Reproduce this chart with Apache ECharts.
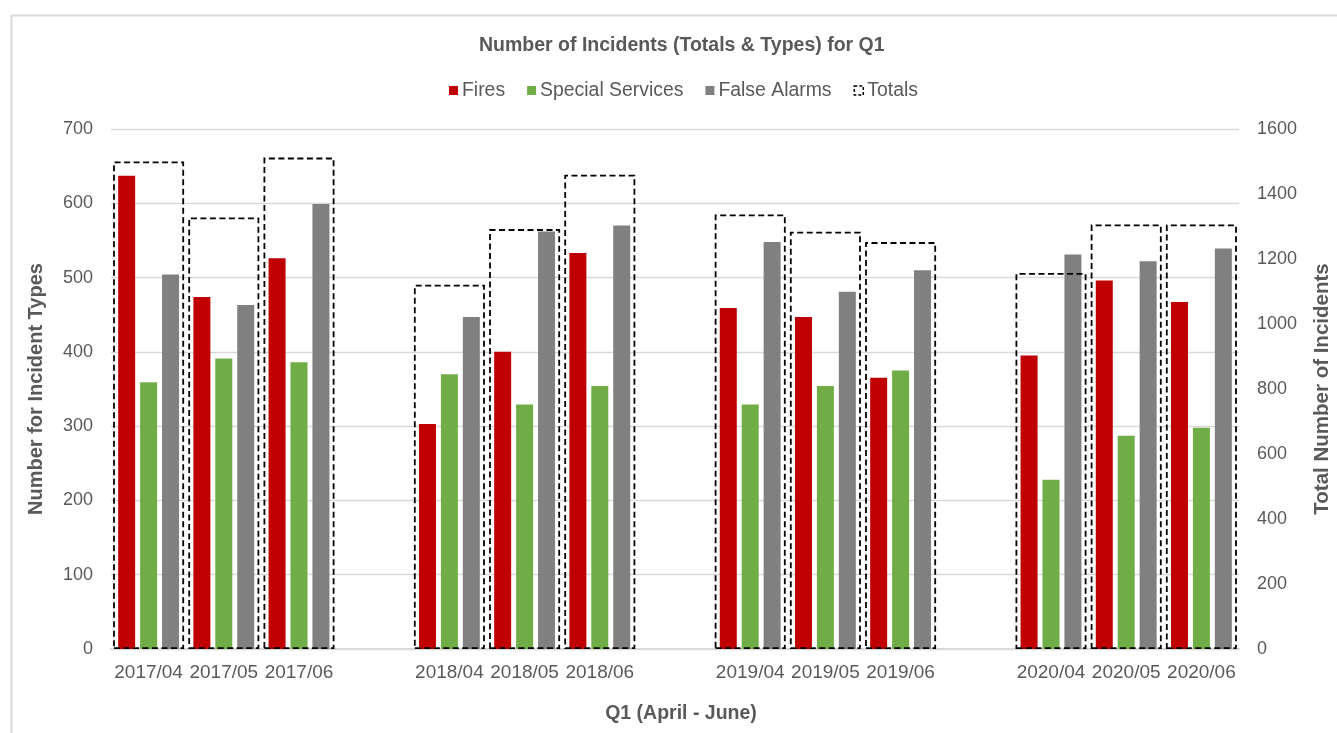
<!DOCTYPE html>
<html>
<head>
<meta charset="utf-8">
<script src="https://cdn.jsdelivr.net/npm/echarts@6/dist/echarts.min.js"></script>
<style>
html,body{margin:0;padding:0;background:#fff;}
#chart{width:1337px;height:733px;}
</style>
</head>
<body>
<div id="chart"></div>
<script>
// Categories (empty strings are the gaps between years)
var categories = ['2017/04','2017/05','2017/06','','2018/04','2018/05','2018/06','','2019/04','2019/05','2019/06','','2020/04','2020/05','2020/06'];
var fires          = [637, 474, 526, null, 303, 400, 533, null, 459, 447, 365, null, 395, 496, 467];
var specialServices= [359, 391, 386, null, 370, 329, 354, null, 329, 354, 375, null, 228, 287, 298];
var falseAlarms    = [504, 463, 599, null, 447, 562, 570, null, 548, 481, 510, null, 531, 522, 539];
var totals         = [1500, 1328, 1512, null, 1121, 1292, 1459, null, 1337, 1284, 1252, null, 1157, 1306, 1306];

var FONT = '"Liberation Sans", Arial, sans-serif';
var TXT = '#595959';

var chart = echarts.init(document.getElementById('chart'), null, {renderer:'canvas'});
chart.setOption({
  backgroundColor: '#fff',
  animation: false,
  graphic: [{
    type: 'rect', left: 9, top: 13, z: -10,
    shape: {x: 0, y: 0, width: 1340, height: 740},
    style: {fill: 'none', stroke: '#d9d9d9', lineWidth: 2}
  }],
  title: {
    text: 'Number of Incidents (Totals & Types) for Q1',
    left: 474, top: 31,
    textStyle: {fontFamily: FONT, fontSize: 19.5, fontWeight: 'bold', color: TXT}
  },
  legend: {
    top: 76, left: 444,
    itemWidth: 9, itemHeight: 9, itemGap: 22,
    textStyle: {fontFamily: FONT, fontSize: 19.4, color: TXT, padding: [0,0,0,-1]},
    data: [
      {name: 'Fires', icon: 'rect'},
      {name: 'Special Services', icon: 'rect'},
      {name: 'False Alarms', icon: 'rect'},
      {name: 'Totals', icon: 'rect', itemStyle: {color: 'rgba(0,0,0,0)', borderColor: '#000', borderWidth: 1.5, borderType: [3,2]}}
    ]
  },
  grid: {left: 111, right: 98, top: 129, bottom: 84, outerBoundsMode: 'none', containLabel: false},
  xAxis: [{
    type: 'category', data: categories,
    name: 'Q1 (April - June)', nameLocation: 'middle', nameGap: 55,
    nameTextStyle: {fontFamily: FONT, fontSize: 19.5, fontWeight: 'bold', color: TXT, padding: [0,0,0,12]},
    axisLine: {lineStyle: {color: '#d9d9d9', width: 2}},
    axisTick: {show: false},
    axisLabel: {fontFamily: FONT, fontSize: 19, color: TXT, margin: 14, interval: 0}
  }, {
    type: 'category', data: categories, show: false
  }],
  yAxis: [{
    type: 'value', min: 0, max: 700, interval: 100,
    name: 'Number for Incident Types', nameLocation: 'middle', nameGap: 65, nameRotate: 90,
    nameTextStyle: {fontFamily: FONT, fontSize: 20, fontWeight: 'bold', color: TXT},
    axisLine: {show: false}, axisTick: {show: false},
    axisLabel: {fontFamily: FONT, fontSize: 18, color: TXT, margin: 18},
    splitLine: {lineStyle: {color: '#d9d9d9', width: 1.3}}
  }, {
    type: 'value', min: 0, max: 1600, interval: 200, position: 'right',
    name: 'Total Number of Incidents', nameLocation: 'middle', nameGap: 73, nameRotate: 90,
    nameTextStyle: {fontFamily: FONT, fontSize: 20.5, fontWeight: 'bold', color: TXT},
    axisLine: {show: false}, axisTick: {show: false},
    axisLabel: {fontFamily: FONT, fontSize: 18, color: TXT, margin: 18, formatter: function (v) { return String(v); }},
    splitLine: {show: false}
  }],
  series: [{
    name: 'Fires', type: 'bar', data: fires, barWidth: 17, barGap: '29%',
    itemStyle: {color: '#C00000'}, z: 2
  }, {
    name: 'Special Services', type: 'bar', data: specialServices, barWidth: 17, barGap: '29%',
    itemStyle: {color: '#70AD47'}, z: 2
  }, {
    name: 'False Alarms', type: 'bar', data: falseAlarms, barWidth: 17, barGap: '29%',
    itemStyle: {color: '#808080'}, z: 2
  }, {
    name: 'Totals', type: 'bar', data: totals, xAxisIndex: 1, yAxisIndex: 1, barWidth: 71,
    itemStyle: {color: 'rgba(0,0,0,0)', borderColor: '#000', borderWidth: 1.8, borderType: [6,3.5]},
    z: 5
  }]
});
</script>
</body>
</html>
